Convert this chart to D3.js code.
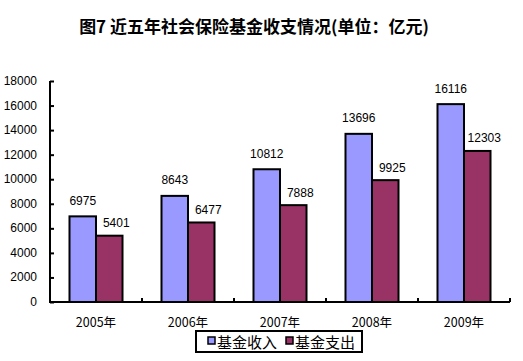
<!DOCTYPE html>
<html>
<head>
<meta charset="utf-8">
<script src="https://cdnjs.cloudflare.com/ajax/libs/d3/7.8.5/d3.min.js"></script>
<style>
  body { margin: 0; background: #fff; }
  text { font-family: "Liberation Sans", Arial, sans-serif; }
  .cjk { font-family: "Noto Sans CJK SC", sans-serif; }
</style>
</head>
<body>
<svg id="chart" width="523" height="361"></svg>
<script>
// data
var years = ["2005年", "2006年", "2007年", "2008年", "2009年"];
var series = ["基金收入", "基金支出"];
var income = [6975, 8643, 10812, 13696, 16116];
var expense = [5401, 6477, 7888, 9925, 12303];
var yTicks = [0, 2000, 4000, 6000, 8000, 10000, 12000, 14000, 16000, 18000];
var colors = ["#9999ff", "#993366"];

var svg = d3.select("#chart");

var plotLeft = 50, plotRight = 510, plotTop = 81, plotBottom = 302;

var x = d3.scaleBand().domain(years).range([plotLeft, plotRight]).padding(0);
var inner = d3.scaleBand().domain(series).range([0, 53]);
var y = d3.scaleLinear().domain([0, 18000]).range([plotBottom, plotTop]);

// title
svg.append("text")
    .attr("class", "cjk")
    .attr("x", 254)
    .attr("y", 33)
    .attr("text-anchor", "middle")
    .style("font-size", "17px")
    .style("font-weight", "bold")
    .text("图7 近五年社会保险基金收支情况(单位：亿元)");

var rows = years.map(function(d, i) {
    return { year: d, values: [income[i], expense[i]] };
});

var groups = svg.selectAll("g.grp").data(rows).enter().append("g")
    .attr("class", "grp")
    .attr("transform", function(d) {
        return "translate(" + (x(d.year) + (x.bandwidth() - 53) / 2) + ",0)";
    });

function cells(d) {
    return d.values.map(function(v, j) { return { s: series[j], v: v, j: j }; });
}

groups.selectAll("rect").data(cells).enter().append("rect")
    .attr("x", function(d) { return inner(d.s); })
    .attr("y", function(d) { return y(d.v); })
    .attr("width", inner.bandwidth())
    .attr("height", function(d) { return plotBottom - y(d.v); })
    .attr("fill", function(d) { return colors[d.j]; })
    .attr("stroke", "#000")
    .attr("stroke-width", 2);

groups.selectAll("text.lbl").data(cells).enter().append("text")
    .attr("class", "lbl")
    .attr("x", function(d) { return inner(d.s) + inner.bandwidth() / 2 + (d.j === 1 ? 7 : 0); })
    .attr("y", function(d) { return y(d.v) - (d.j === 1 ? 8.5 : 11.5); })
    .attr("text-anchor", "middle")
    .style("font-size", "12px")
    .text(function(d) { return d.v; });

// y axis
var yAxis = svg.append("g")
    .attr("transform", "translate(" + plotLeft + ",0)")
    .call(d3.axisRight(y).tickValues(yTicks).tickSize(4).tickFormat(""));
yAxis.select(".domain").attr("stroke-width", 2).attr("d", "M0," + plotTop + "V" + plotBottom);
yAxis.selectAll(".tick line").attr("stroke-width", 2);

svg.selectAll("text.ytick").data(yTicks).enter().append("text")
    .attr("class", "ytick")
    .attr("x", 37)
    .attr("y", function(d) { return y(d) + 4; })
    .attr("text-anchor", "end")
    .style("font-size", "12px")
    .text(function(d) { return d; });

// x axis
var xAxis = svg.append("g")
    .attr("transform", "translate(0," + plotBottom + ")")
    .call(d3.axisTop(x).tickSize(0).tickFormat(""));
xAxis.select(".domain").attr("stroke-width", 2).attr("d", "M" + (plotLeft - 1) + ",0H" + plotRight);
xAxis.selectAll(".tick").remove();

svg.selectAll("line.xsep").data(years.slice(1).concat(["end"])).enter().append("line")
    .attr("class", "xsep")
    .attr("x1", function(d) { return d === "end" ? plotRight : x(d); })
    .attr("x2", function(d) { return d === "end" ? plotRight : x(d); })
    .attr("y1", plotBottom)
    .attr("y2", plotBottom - 4)
    .attr("stroke", "#000")
    .attr("stroke-width", 2);

svg.selectAll("text.xlbl").data(years).enter().append("text")
    .attr("class", "xlbl cjk")
    .attr("x", function(d) { return x(d) + x.bandwidth() / 2; })
    .attr("y", 327)
    .attr("text-anchor", "middle")
    .style("font-size", "12.5px")
    .text(function(d) { return d; });

// legend
var lg = svg.append("g").attr("transform", "translate(196,331)");
lg.append("rect")
    .attr("width", 166).attr("height", 21)
    .attr("fill", "#fff").attr("stroke", "#000").attr("stroke-width", 2);
var items = lg.selectAll("g.item").data(series).enter().append("g")
    .attr("transform", function(d, i) { return "translate(" + (12 + i * 78) + ",0)"; });
items.append("rect")
    .attr("x", 0).attr("y", 6).attr("width", 7).attr("height", 7)
    .attr("fill", function(d, i) { return colors[i]; })
    .attr("stroke", "#000").attr("stroke-width", 1.5);
items.append("text")
    .attr("class", "cjk")
    .attr("x", 9).attr("y", 17)
    .style("font-size", "15px")
    .text(function(d) { return d; });
</script>
</body>
</html>
